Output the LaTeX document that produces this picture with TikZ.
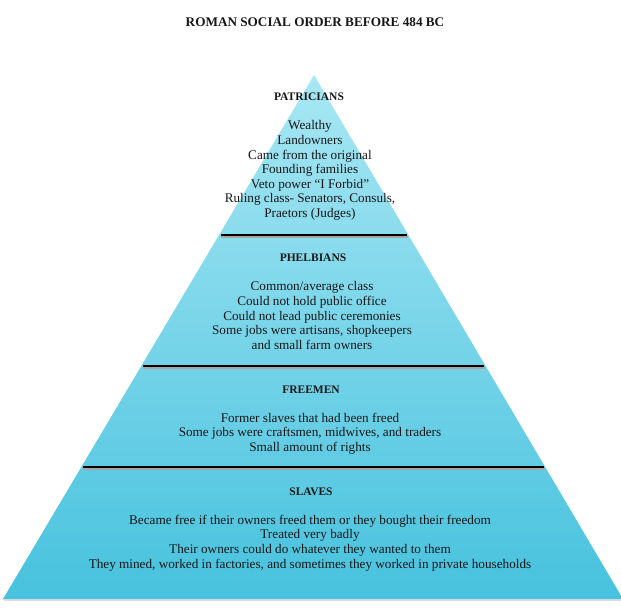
\documentclass[tikz,border=0pt]{standalone}
\usepackage{fontspec}
\setmainfont{Liberation Serif}
\usetikzlibrary{calc}
\definecolor{pyrtop}{HTML}{A8E7F4}
\definecolor{pyrbot}{HTML}{47C2DE}
\definecolor{txtdark}{HTML}{161616}

\begin{document}
\begin{tikzpicture}[
  x=1pt, y=-1pt,
  tier/.style={font=\bfseries\fontsize{11.5}{13}\selectfont, text=txtdark, inner sep=0pt},
  facts/.style={font=\fontsize{13.2}{14.6}\selectfont, align=center, text=txtdark, inner sep=0pt},
  sep/.style={line width=2.6pt, black},
  sepshadow/.style={line width=2pt, black!35},
]
\useasboundingbox (0,0) rectangle (621,608);

% ================= pyramid =================
\coordinate (apex) at (314,75);
\coordinate (bl) at (3,599);
\coordinate (br) at (623,599);
\fill[black!12] ($(bl)+(2,2)$) -- ($(br)+(0,2)$) -- ($(br)+(0,0)$) -- (bl) -- cycle;
\shade[top color=pyrtop, bottom color=pyrbot] (apex) -- (br) -- (bl) -- cycle;

% ================= separators =================
\foreach \t/\n in {0.305/one, 0.555/two, 0.748/three}{
  \coordinate (l\n) at ($(apex)!\t!(bl)$);
  \coordinate (r\n) at ($(apex)!\t!(br)$);
  \draw[sepshadow] ($(l\n)+(2,2)$) -- ($(r\n)+(0,2)$);
  \draw[sep] ($(l\n)+(2,0)$) -- ($(r\n)+(-1,0)$);
}

% title
\node[font=\bfseries\fontsize{13.2}{15}\selectfont, text=txtdark] (title) at (315,22)
     {ROMAN SOCIAL ORDER BEFORE 484 BC};

% ================= PATRICIANS =================
\node[tier] (patr) at (309,97) {PATRICIANS};
\node[facts] (patrtxt) at (310,170.5)
     {Wealthy\\ Landowners\\ Came from the original\\ Founding families\\
      Veto power ``I Forbid''\\ Ruling class- Senators, Consuls,\\ Praetors (Judges)};

% ================= PHELBIANS =================
\node[tier] (phel) at (313,258) {PHELBIANS};
\node[facts] (pheltxt) at (312,315.5)
     {Common/average class\\ Could not hold public office\\ Could not lead public ceremonies\\
      Some jobs were artisans, shopkeepers\\ and small farm owners};

% ================= FREEMEN =================
\node[tier] (free) at (311,390) {FREEMEN};
\node[facts] (freetxt) at (310,433.5)
     {Former slaves that had been freed\\ Some jobs were craftsmen, midwives, and traders\\
      Small amount of rights};

% ================= SLAVES =================
\node[tier] (slav) at (311,492) {SLAVES};
\node[facts] (slavtxt) at (310,543)
     {Became free if their owners freed them or they bought their freedom\\ Treated very badly\\
      Their owners could do whatever they wanted to them\\
      They mined, worked in factories, and sometimes they worked in private households};
\end{tikzpicture}
\end{document}
